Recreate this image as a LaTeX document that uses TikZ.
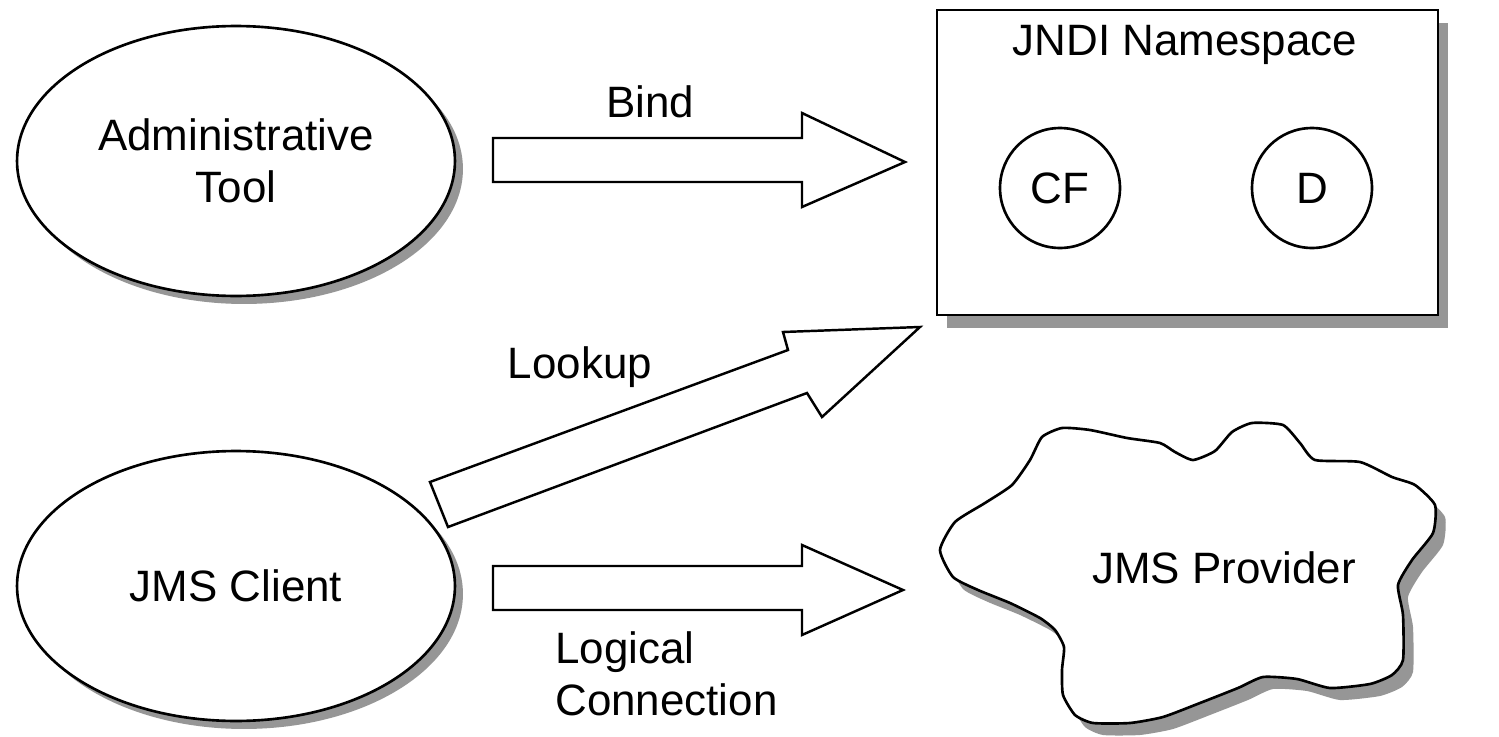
\documentclass[tikz,border=0pt]{standalone}
\usepackage{fontspec}
\setmainfont{Liberation Sans}
\usetikzlibrary{shapes.geometric,shadows}
\definecolor{shgray}{RGB}{150,150,150}
\begin{document}
\begin{tikzpicture}[x=0.02cm,y=-0.02cm,
  every node/.style={font=\fontsize{25}{29.5}\selectfont},
  outl/.style={draw=black,line width=1.5pt,fill=white},
  shad/.style={drop shadow={shadow xshift=0.16cm,shadow yshift=-0.16cm,fill=shgray,opacity=1}},
  oval/.style={ellipse,outl,shad,minimum width=8.76cm,minimum height=5.4cm,inner sep=0pt,align=center},
  lbl/.style={inner sep=0pt,anchor=base},
  ring/.style={circle,draw=black,line width=1.5pt,fill=white,minimum size=2.4cm,inner sep=0pt},
  blockarrow/.style={draw=black,line width=1.4pt,fill=white,line join=miter}]
\useasboundingbox[fill=white] (0,0) rectangle (1499,737);

% Ellipses
\node[oval] (admin) at (236,161) {Administrative\\Tool};
\node[oval] (client) at (236,586) {JMS Client};

% JNDI namespace box
\node[rectangle,outl,drop shadow={shadow xshift=0.2cm,shadow yshift=-0.26cm,fill=shgray,opacity=1},
      minimum width=10.02cm,minimum height=6.1cm,inner sep=0pt] (jndi) at (1187.5,162.5) {};
\node[lbl] (jnditxt) at (1185,55) {JNDI Namespace};
\node[ring] (cf) at (1060,188) {CF};
\node[ring] (d) at (1312,188) {D};

% Cloud (JMS Provider)
\def\cloudpts{(940,550) (955,522) (985,503) (1012,485) (1030,460) (1042,437) (1062,428)
 (1090,430) (1127,438) (1160,443) (1175,452) (1193,460) (1215,451) (1232,432) (1252,423)
 (1283,425) (1300,443) (1315,460) (1360,462) (1392,477) (1415,485) (1435,505) (1433,533)
 (1412,560) (1398,585) (1403,615) (1403,660) (1392,675) (1370,684) (1330,688) (1297,679)
 (1263,677) (1238,688) (1200,703) (1163,717) (1130,723) (1093,723) (1075,715) (1063,695)
 (1062,670) (1064,647) (1055,630) (1040,618) (1010,603) (978,590) (953,577)}
\fill[shgray,shift={(10,12)}] plot[smooth cycle,tension=0.35] coordinates {\cloudpts};
\draw[outl] plot[smooth cycle,tension=0.35] coordinates {\cloudpts};
\node[lbl] (provider) at (1224,583) {JMS Provider};

% Block arrows
\draw[blockarrow] (493,138) -- (802,138) -- (802,113) -- (905,162) -- (802,207) -- (802,182) -- (493,182) -- cycle;
\node[lbl] (bind) at (650,117) {Bind};

\draw[blockarrow] (430,482) -- (788,350) -- (783,332) -- (920,327) -- (822,417) -- (807,393) -- (448,527) -- cycle;
\node[lbl] (lookup) at (580,378) {Lookup};

\draw[blockarrow] (493,566) -- (802,566) -- (802,545) -- (903,590) -- (802,635) -- (802,610) -- (493,610) -- cycle;
\node[lbl,anchor=base west] (logical) at (555,663) {Logical};
\node[lbl,anchor=base west] (connection) at (555,715) {Connection};
\end{tikzpicture}
\end{document}
